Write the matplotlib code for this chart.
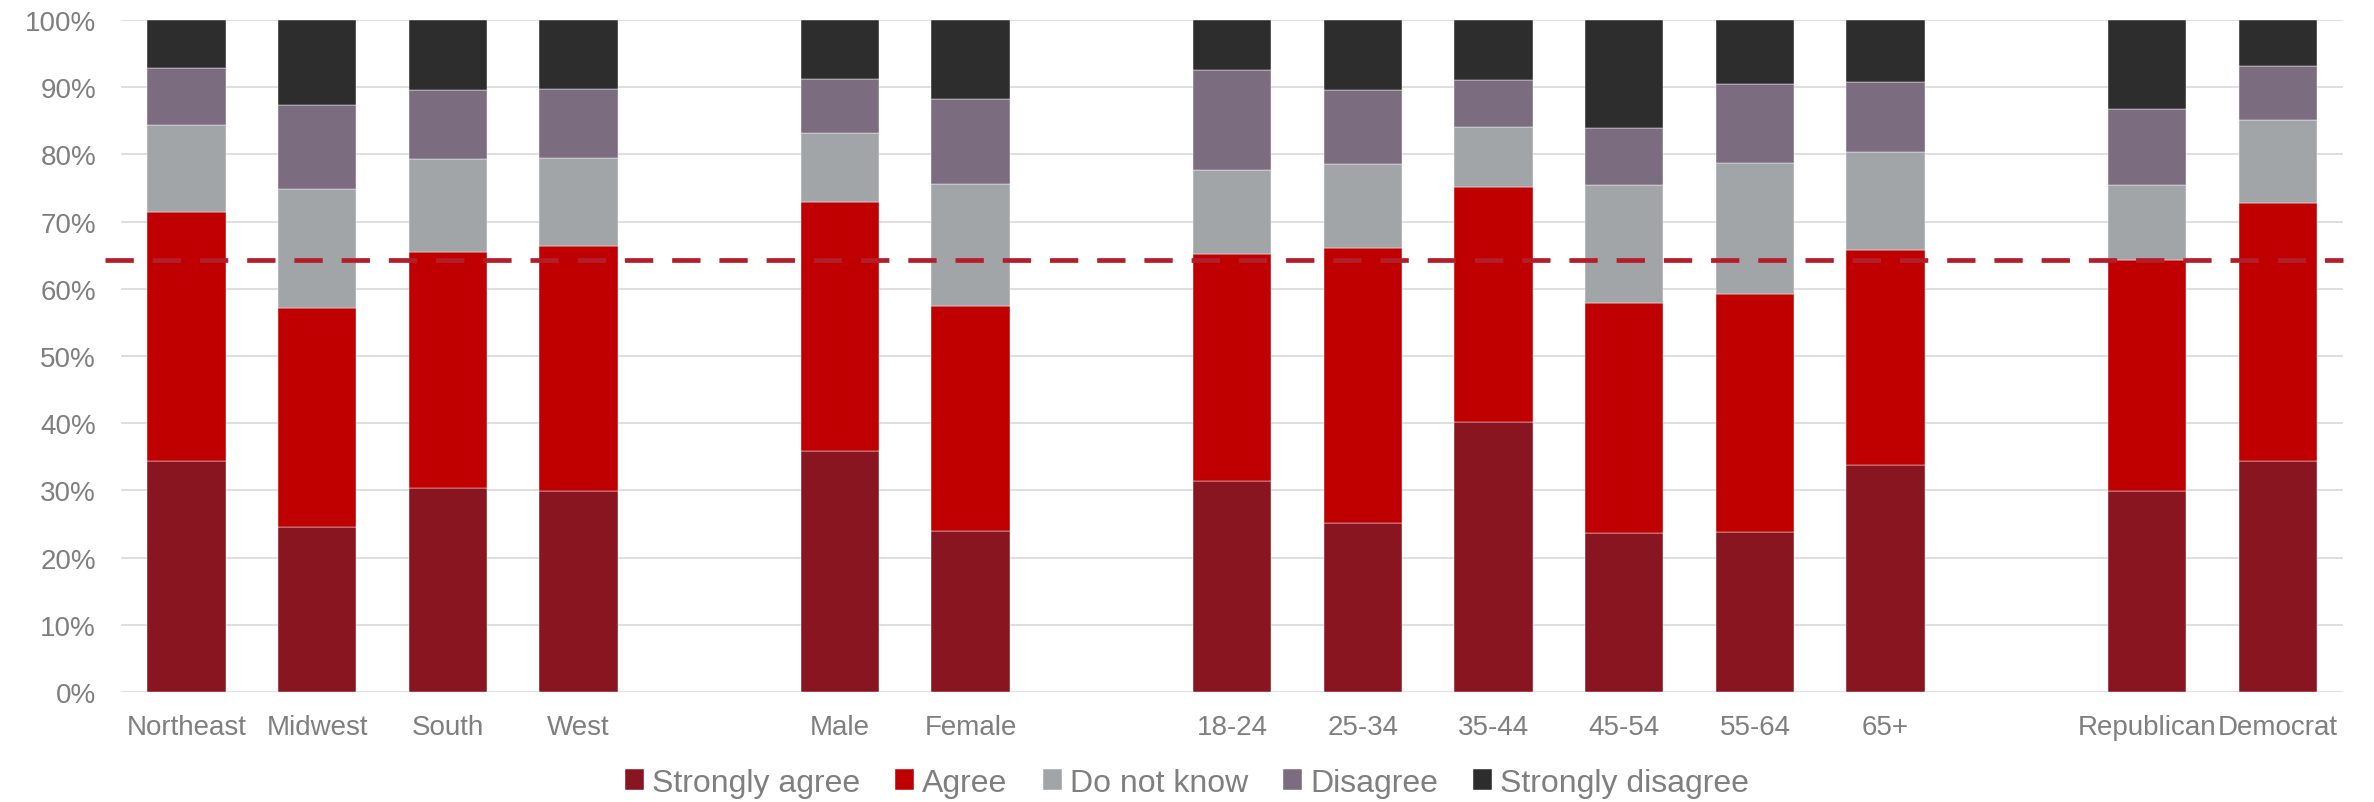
import matplotlib
matplotlib.use("Agg")
import matplotlib.pyplot as plt
import numpy as np

plt.rcParams['font.family'] = ['Liberation Sans', 'DejaVu Sans']

# categories ('' = empty spacer slot between groups)
categories = ['Northeast', 'Midwest', 'South', 'West', '',
              'Male', 'Female', '',
              '18-24', '25-34', '35-44', '45-54', '55-64', '65+', '',
              'Republican', 'Democrat']

series_names = ['Strongly agree', 'Agree', 'Do not know', 'Disagree',
                'Strongly disagree']

# percentages per category (spacers hold zeros)
strongly_agree = [34.3, 24.5, 30.4, 29.9, 0, 35.8, 23.9, 0,
                  31.4, 25.2, 40.1, 23.6, 23.8, 33.7, 0, 29.9, 34.3]
agree = [37.1, 32.7, 35.1, 36.4, 0, 37.1, 33.5, 0,
         33.7, 40.9, 35.0, 34.3, 35.4, 32.0, 0, 34.4, 38.4]
do_not_know = [12.9, 17.6, 13.8, 13.2, 0, 10.2, 18.2, 0,
               12.6, 12.5, 9.0, 17.5, 19.5, 14.7, 0, 11.2, 12.4]
disagree = [8.6, 12.5, 10.2, 10.2, 0, 8.1, 12.7, 0,
            14.9, 11.0, 7.0, 8.5, 11.7, 10.4, 0, 11.2, 8.0]
strongly_disagree = [7.1, 12.7, 10.5, 10.3, 0, 8.8, 11.7, 0,
                     7.4, 10.4, 8.9, 16.1, 9.6, 9.2, 0, 13.3, 6.9]

reference_line = 64.3

colors = ['#891520', '#C00000', '#A2A5A8', '#7B6C80', '#2D2D2D']

values = [strongly_agree, agree, do_not_know, disagree, strongly_disagree]

fig = plt.figure(figsize=(23.74, 8.03), dpi=100)
ax = fig.add_axes([0.051, 0.137, 0.936, 0.837])

x = np.arange(len(categories))
bottom = np.zeros(len(categories))
for name, vals, col in zip(series_names, values, colors):
    vals = np.array(vals, dtype=float)
    keep = vals > 0
    ax.bar(x[keep], vals[keep], 0.6, bottom=bottom[keep], color=col,
           label=name, zorder=2, edgecolor='white', linewidth=0.3)
    bottom += vals

ax.plot([-0.62, 16.5], [reference_line, reference_line], color='#B41E2A',
        lw=3.4, linestyle=(0, (6, 4)), zorder=3, clip_on=False)

ax.set_xlim(-0.5, 16.5)
ax.set_ylim(0, 100)
ax.set_yticks(np.arange(0, 101, 10))
ax.set_yticklabels(['{}%'.format(v) for v in range(0, 101, 10)])
ax.set_xticks(x)
ax.set_xticklabels(categories)
ax.yaxis.grid(True, color='#D9D9D9', lw=1.2, zorder=0)
ax.set_axisbelow(True)
for s in ax.spines.values():
    s.set_visible(False)
ax.tick_params(axis='y', length=0, pad=18, labelsize=20, labelcolor='#7F7F7F')
ax.tick_params(axis='x', length=0, pad=16, labelsize=20, labelcolor='#7F7F7F')

leg = fig.legend(loc='center', bbox_to_anchor=(0.5, 0.024), ncol=5,
                 frameon=False, fontsize=23, handlelength=0.6,
                 handleheight=0.6, handletextpad=0.25, columnspacing=1.1)
for t in leg.get_texts():
    t.set_color('#7F7F7F')

fig.savefig('out.png', dpi=100)
